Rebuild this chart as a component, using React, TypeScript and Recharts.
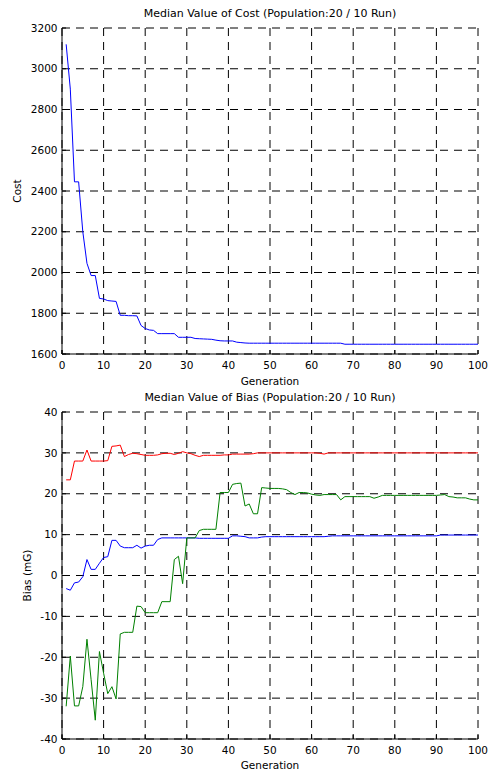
import { CartesianGrid, Line, LineChart, XAxis, YAxis } from 'recharts';

const FONT = '"DejaVu Sans", sans-serif';

// x index: generation 1..100
const generations = Array.from({ length: 100 }, (_, i) => i + 1);
const genTicks = [0, 10, 20, 30, 40, 50, 60, 70, 80, 90, 100];
const costTicks = [1600, 1800, 2000, 2200, 2400, 2600, 2800, 3000, 3200];
const biasTicks = [-40, -30, -20, -10, 0, 10, 20, 30, 40];

const costValues = [
  3120, 2900, 2445, 2445, 2200, 2045, 1985, 1985, 1873, 1870,
  1862, 1860, 1858, 1790, 1790, 1788, 1788, 1787, 1740, 1725,
  1718, 1716, 1700, 1700, 1700, 1700, 1700, 1682, 1682, 1682,
  1682, 1676, 1675, 1674, 1673, 1672, 1668, 1665, 1664, 1664,
  1664, 1658, 1656, 1654, 1653, 1653, 1653, 1653, 1653, 1653,
  1653, 1653, 1653, 1653, 1653, 1653, 1653, 1653, 1653, 1653,
  1653, 1653, 1653, 1653, 1653, 1653, 1653, 1648, 1648, 1648,
  1648, 1648, 1648, 1648, 1648, 1648, 1648, 1648, 1648, 1648,
  1648, 1648, 1648, 1648, 1648, 1648, 1648, 1648, 1648, 1648,
  1648, 1648, 1648, 1648, 1648, 1648, 1648, 1648, 1648, 1648,
];

const biasRed = [
  23.4, 23.4, 28, 28, 28, 30.7, 28, 28, 28, 28,
  28.1, 31.6, 31.7, 31.9, 29.1, 29.6, 29.9, 29.8, 29.6, 29.4,
  29.4, 29.4, 29.5, 29.8, 29.9, 29.9, 29.6, 29.9, 30.3, 30.0,
  29.8, 29.4, 29.1, 29.4, 29.4, 29.4, 29.4, 29.4, 29.5, 29.5,
  29.7, 29.7, 29.7, 29.7, 29.7, 29.8, 30, 30, 30, 30,
  30, 30, 30, 30, 30, 30, 30, 30, 30, 30,
  30, 29.9, 29.7, 30, 30, 30, 30, 30, 30, 30,
  30, 30, 30, 30, 30, 30, 30, 30, 30, 30,
  30, 30, 30, 30, 30, 30, 30, 30, 30, 30,
  30, 30, 30, 30, 30, 30, 30, 30, 30, 30,
];

const biasBlue = [
  -3.2, -3.6, -1.8, -1.6, -0.3, 3.9, 1.5, 1.5, 3.0, 4.4,
  4.6, 8.6, 8.6, 7.2, 6.8, 6.8, 6.8, 7.4, 6.7, 7.2,
  7.4, 7.4, 8.8, 9.2, 9.2, 9.2, 9.2, 9.2, 9.2, 9.2,
  9.2, 9.2, 9.1, 9.1, 9.1, 9.1, 9.1, 9.1, 9.1, 9.1,
  9.7, 9.7, 9.6, 9.5, 9.2, 9.2, 9.2, 9.4, 9.5, 9.5,
  9.5, 9.5, 9.5, 9.5, 9.5, 9.5, 9.5, 9.5, 9.5, 9.5,
  9.5, 9.5, 9.5, 9.6, 9.7, 9.7, 9.7, 9.7, 9.7, 9.7,
  9.7, 9.7, 9.7, 9.7, 9.7, 9.7, 9.7, 9.7, 9.7, 9.7,
  9.7, 9.7, 9.7, 9.7, 9.7, 9.7, 9.7, 9.7, 9.7, 9.7,
  9.9, 9.9, 9.9, 9.9, 9.9, 9.9, 9.9, 9.9, 9.9, 9.9,
];

const biasGreen = [
  -32, -19.7, -31.9, -31.9, -27.2, -15.6, -25.5, -35.4, -18.6, -23.9,
  -28.9, -27.2, -30.2, -14.3, -13.9, -13.9, -13.9, -7.5, -7.6, -9.1,
  -9.1, -9.1, -9.1, -6.4, -6.4, -6.4, 3.9, 4.7, -2.0, 9.2,
  9.2, 9.2, 11.0, 11.3, 11.3, 11.3, 11.3, 20.3, 20.3, 20.3,
  22.3, 22.5, 22.6, 17.0, 17.5, 15.1, 15.1, 21.5, 21.4, 21.3,
  21.3, 21.3, 21.2, 21.0, 20.3, 19.8, 20.3, 20.3, 20.2, 19.9,
  19.7, 19.6, 19.8, 19.8, 19.8, 19.8, 18.5, 19.3, 19.3, 19.3,
  19.3, 19.3, 19.3, 19.3, 18.9, 19.2, 19.6, 19.6, 19.6, 19.6,
  19.6, 19.6, 19.6, 19.6, 19.6, 19.6, 19.6, 19.6, 19.6, 19.6,
  19.7, 19.8, 19.3, 19.2, 19.0, 19.0, 19.0, 18.7, 18.5, 18.5,
];

const costData = generations.map((g, i) => ({ gen: g, cost: costValues[i] }));
const biasData = generations.map((g, i) => ({
  gen: g,
  red: biasRed[i],
  blue: biasBlue[i],
  green: biasGreen[i],
}));

const tickStyle = { fill: '#000', fontSize: 10.5, fontFamily: FONT };
const titleStyle: React.CSSProperties = {
  position: 'absolute',
  left: 62,
  width: 416,
  textAlign: 'center',
  fontSize: 11,
  lineHeight: '11px',
  fontFamily: FONT,
  color: '#000',
  whiteSpace: 'nowrap',
};

export default function App() {
  return (
    <div style={{ position: 'absolute', left: 0, top: 0, width: 496, height: 771, background: '#fff' }}>
      <div style={{ position: 'absolute', left: 0, top: 0 }}>
        <LineChart width={496} height={390} data={costData} margin={{ top: 28, right: 18, left: 0, bottom: 0 }}>
          <CartesianGrid stroke="#000" strokeDasharray="8 6" />
          <XAxis
            dataKey="gen"
            type="number"
            domain={[0, 100]}
            ticks={genTicks}
            interval={0}
            height={36}
            tickSize={-4}
            tickMargin={12}
            stroke="#000"
            tick={tickStyle}
            label={{ value: 'Generation', position: 'insideBottom', offset: 4.6, fill: '#000', fontSize: 10.5, fontFamily: FONT }}
          />
          <XAxis xAxisId="top" orientation="top" dataKey="gen" type="number" domain={[0, 100]} ticks={genTicks} height={0} tick={false} tickSize={-4} stroke="#000" />
          <YAxis
            type="number"
            domain={[1600, 3200]}
            ticks={costTicks}
            interval={0}
            width={62}
            tickSize={-4}
            tickMargin={8.5}
            stroke="#000"
            tick={tickStyle}
            label={{ value: 'Cost', angle: -90, position: 'insideLeft', offset: 17, fill: '#000', fontSize: 10.5, fontFamily: FONT, style: { textAnchor: 'middle' } }}
          />
          <YAxis yAxisId="right" orientation="right" type="number" domain={[1600, 3200]} ticks={costTicks} width={0} tick={false} tickSize={-4} stroke="#000" />
          <Line type="linear" dataKey="cost" stroke="#0000ff" strokeWidth={1} dot={false} isAnimationActive={false} />
        </LineChart>
      </div>
      <div style={{ position: 'absolute', left: 0, top: 390 }}>
        <LineChart width={496} height={381} data={biasData} margin={{ top: 22, right: 18, left: 0, bottom: 0 }}>
          <CartesianGrid stroke="#000" strokeDasharray="8 6" />
          <XAxis
            dataKey="gen"
            type="number"
            domain={[0, 100]}
            ticks={genTicks}
            interval={0}
            height={32}
            tickSize={-4}
            tickMargin={12}
            stroke="#000"
            tick={tickStyle}
            label={{ value: 'Generation', position: 'insideBottom', offset: 2.3, fill: '#000', fontSize: 10.5, fontFamily: FONT }}
          />
          <XAxis xAxisId="top" orientation="top" dataKey="gen" type="number" domain={[0, 100]} ticks={genTicks} height={0} tick={false} tickSize={-4} stroke="#000" />
          <YAxis
            type="number"
            domain={[-40, 40]}
            ticks={biasTicks}
            interval={0}
            width={62}
            tickSize={-4}
            tickMargin={8.5}
            stroke="#000"
            tick={tickStyle}
            label={{ value: 'Bias (mG)', angle: -90, position: 'insideLeft', offset: 27, fill: '#000', fontSize: 10.5, fontFamily: FONT, style: { textAnchor: 'middle' } }}
          />
          <YAxis yAxisId="right" orientation="right" type="number" domain={[-40, 40]} ticks={biasTicks} width={0} tick={false} tickSize={-4} stroke="#000" />
          <Line type="linear" dataKey="red" stroke="#ff0000" strokeWidth={1} dot={false} isAnimationActive={false} />
          <Line type="linear" dataKey="blue" stroke="#0000ff" strokeWidth={1} dot={false} isAnimationActive={false} />
          <Line type="linear" dataKey="green" stroke="#008000" strokeWidth={1} dot={false} isAnimationActive={false} />
        </LineChart>
      </div>
      <div style={{ ...titleStyle, top: 7.7 }}>Median Value of Cost (Population:20 / 10 Run)</div>
      <div style={{ ...titleStyle, top: 391.7 }}>Median Value of Bias (Population:20 / 10 Run)</div>
    </div>
  );
}
